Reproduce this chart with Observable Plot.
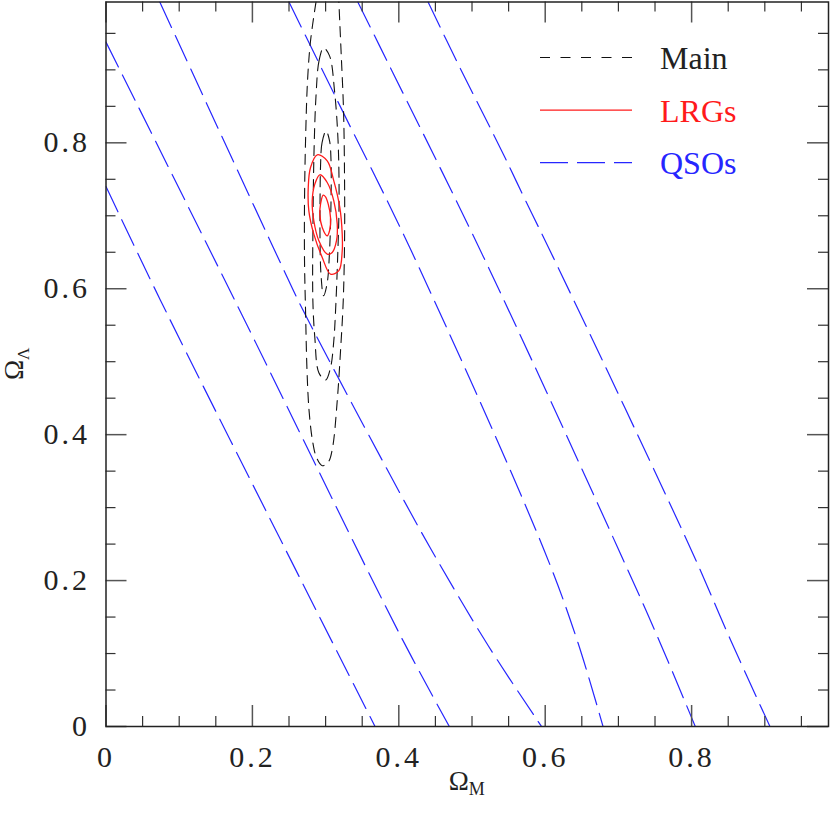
<!DOCTYPE html>
<html><head><meta charset="utf-8">
<script src="https://cdn.jsdelivr.net/npm/d3@7"></script>
<script src="https://cdn.jsdelivr.net/npm/@observablehq/plot@0.6"></script>
<style>
body{margin:0;background:#fff;}
#chart{width:830px;height:823px;}
#chart svg{font-family:'Liberation Serif',serif;}
g[aria-label="x-axis tick label"] text, g[aria-label="y-axis tick label"] text{letter-spacing:3px;font-family:'Liberation Serif',serif;font-size:30px;}
</style></head><body><div id="chart"></div>
<script>
// ---- tick values and labels ----
const majorTicks = [0, 0.2, 0.4, 0.6, 0.8];
const tickLabels = ["0", "0.2", "0.4", "0.6", "0.8"];
const minorTicks = [0.05,0.1,0.15,0.25,0.3,0.35,0.45,0.5,0.55,0.65,0.7,0.75,0.85,0.9,0.95];

// ---- legend ----
const legendLabels = ["Main", "LRGs", "QSOs"];

// ---- QSO contours (open lines, [Omega_M, Omega_Lambda]) ----
const qso1 = [[0,0.740],[0.0745,0.584],[0.246,0.241],[0.3675,0]];
const qso2 = [[0,0.938],[0.176,0.584],[0.402,0.125],[0.469,0]];
const qso3 = [[0.0735,0.993],[0.239,0.634],[0.268,0.573],[0.402,0.319],[0.444,0.243],[0.522,0.111],[0.595,0]];
const qso4 = [[0.250,0.993],[0.316,0.858],[0.417,0.652],[0.598,0.243],[0.6437,0.118],[0.679,0]];
const qso5 = [[0.344,0.993],[0.384,0.912],[0.515,0.645],[0.700,0.243],[0.7556,0.118],[0.805,0]];
const qso6 = [[0.440,0.993],[0.479,0.912],[0.544,0.782],[0.573,0.721],[0.611,0.643],[0.799,0.243],[0.8535,0.118],[0.907,0]];

// ---- Main contours ----
const mainOuter = [[0.2869,0.9932],[0.2794,0.9397],[0.2753,0.8849],[0.2726,0.8027],[0.2712,0.7205],[0.2712,0.6384],
  [0.2726,0.5699],[0.2746,0.4877],[0.2774,0.4329],[0.2821,0.3918],[0.2876,0.3685],[0.2954,0.3575],[0.3040,0.3630],
  [0.3095,0.3822],[0.3159,0.4466],[0.3204,0.5151],[0.3241,0.5836],[0.3259,0.6658],[0.3259,0.7479],[0.3245,0.8438],
  [0.3211,0.9260],[0.3181,0.9932]];
const mainMiddle = [[0.2972,0.9301],[0.2910,0.9123],[0.2869,0.8644],[0.2842,0.7890],[0.2828,0.6932],[0.2826,0.5836],
  [0.2853,0.5329],[0.2908,0.4849],[0.2999,0.4749],[0.3067,0.4918],[0.3112,0.5288],[0.3136,0.5699],[0.3163,0.6384],
  [0.3184,0.7205],[0.3170,0.8027],[0.3122,0.8712],[0.3054,0.9192]];
const mainInner = [[0.3006,0.8164],[0.2951,0.8000],[0.2931,0.7685],[0.2924,0.7205],[0.2924,0.6658],[0.2938,0.6178],
  [0.2972,0.5904],[0.3020,0.6068],[0.3054,0.6521],[0.3074,0.7205],[0.3074,0.7753],[0.3054,0.8027]];

// ---- LRG contours ----
const lrgOuter = [[0.2886,0.7836],[0.2794,0.7662],[0.2763,0.7388],[0.2771,0.7068],[0.2839,0.6749],[0.2954,0.6429],
  [0.3067,0.6201],[0.3181,0.6247],[0.3227,0.6521],[0.3227,0.6749],[0.3194,0.7114],[0.3112,0.7479],[0.3022,0.7753]];
const lrgMiddle = [[0.2921,0.7562],[0.2853,0.7434],[0.2817,0.7205],[0.2839,0.6932],[0.2908,0.6658],[0.3022,0.6475],
  [0.3091,0.6497],[0.3149,0.6658],[0.3159,0.6886],[0.3112,0.7205],[0.3022,0.7456]];
const lrgInner = [[0.2967,0.7283],[0.2931,0.7160],[0.2921,0.7023],[0.2954,0.6840],[0.3022,0.6726],[0.3054,0.6795],
  [0.3067,0.6977],[0.3036,0.7160],[0.2999,0.7260]];

// ---- build tables ----
const rows = (arr, id) => arr.map(([m, l]) => ({m, l, id}));
const qsoRows = [qso1,qso2,qso3,qso4,qso5,qso6].flatMap((a,i)=>rows(a,"q"+i));
const mainOpenRows = rows(mainOuter, "mo");
const mainClosedRows = [mainMiddle, mainInner].flatMap((a,i)=>rows(a,"mc"+i));
const lrgRows = [lrgOuter, lrgMiddle, lrgInner].flatMap((a,i)=>rows(a,"l"+i));

const W = 830, H = 823, mL = 105.5, mR = 2, mT = 1.5, mB = 97;
const fw = W - mL - mR, fh = H - mT - mB;
const labelOf = new Map(majorTicks.map((d,i)=>[d, tickLabels[i]]));

const BLUE = "#2626ff", RED = "#ff1a1a", BLACK = "#111";
const FONT = "'Liberation Serif', serif";

const svg = Plot.plot({
  width: W, height: H,
  marginLeft: mL, marginRight: mR, marginTop: mT, marginBottom: mB,
  x: {domain: [0, 0.987], ticks: majorTicks, tickSize: 0, tickPadding: 19, tickFormat: d => labelOf.get(d), label: null},
  y: {domain: [0, 0.993], ticks: majorTicks, tickSize: 0, tickPadding: 16, tickFormat: d => labelOf.get(d), label: null},
  style: "font-family: 'Liberation Serif', serif; font-size: 30px; color: #222; background: #fff; overflow: visible;",
  marks: [
    Plot.line(qsoRows, {x: "m", y: "l", z: "id", stroke: BLUE, strokeWidth: 1.2, strokeDasharray: "28,9", curve: "catmull-rom", clip: true}),
    Plot.line(mainOpenRows, {x: "m", y: "l", z: "id", stroke: BLACK, strokeWidth: 1.1, strokeDasharray: "10,7", curve: "catmull-rom", clip: true}),
    Plot.line(mainClosedRows, {x: "m", y: "l", z: "id", stroke: BLACK, strokeWidth: 1.1, strokeDasharray: "10,7", curve: "catmull-rom-closed", clip: true}),
    Plot.line(lrgRows, {x: "m", y: "l", z: "id", stroke: RED, strokeWidth: 1.3, curve: "catmull-rom-closed"}),
    // inward ticks on all four sides
    Plot.tickX(majorTicks, {x: d => d, insetTop: fh - 21, stroke: "#555", strokeWidth: 1.5}),
    Plot.tickX(majorTicks, {x: d => d, insetBottom: fh - 21, stroke: "#555", strokeWidth: 1.5}),
    Plot.tickX(minorTicks, {x: d => d, insetTop: fh - 10, stroke: "#333", strokeWidth: 1.2}),
    Plot.tickX(minorTicks, {x: d => d, insetBottom: fh - 10, stroke: "#333", strokeWidth: 1.2}),
    Plot.tickY(majorTicks, {y: d => d, insetRight: fw - 21, stroke: "#555", strokeWidth: 1.5}),
    Plot.tickY(majorTicks, {y: d => d, insetLeft: fw - 21, stroke: "#555", strokeWidth: 1.5}),
    Plot.tickY(minorTicks, {y: d => d, insetRight: fw - 10, stroke: "#333", strokeWidth: 1.2}),
    Plot.tickY(minorTicks, {y: d => d, insetLeft: fw - 10, stroke: "#333", strokeWidth: 1.2}),
    Plot.frame({stroke: "#222", strokeWidth: 1.5})
  ]
});

const s = d3.select(svg);
// axis titles
const xt = s.append("text").attr("x", mL + fw/2).attr("y", 790).attr("text-anchor", "middle")
  .attr("font-family", FONT).attr("font-size", 27).attr("fill", "#222");
xt.append("tspan").text("Ω");
xt.append("tspan").attr("font-size", 18).attr("dy", 5).text("M");
const yt = s.append("text").attr("transform", `translate(23,${mT + fh/2}) rotate(-90)`).attr("text-anchor", "middle")
  .attr("font-family", FONT).attr("font-size", 27).attr("fill", "#222");
yt.append("tspan").text("Ω");
yt.append("tspan").attr("font-size", 17).attr("dy", 6).text("Λ");

// legend
const legendStyle = [
  {stroke: BLACK, dash: "10,10.5", color: "#222"},
  {stroke: RED, dash: null, color: RED},
  {stroke: BLUE, dash: "28,9", color: BLUE}
];
const lg = s.append("g");
legendLabels.forEach((lab, i) => {
  const st = legendStyle[i];
  lg.append("line").attr("x1", 540).attr("x2", 632).attr("y1", 57.5 + i*52.6).attr("y2", 57.5 + i*52.6)
    .attr("stroke", st.stroke).attr("stroke-width", 1.2).attr("stroke-dasharray", st.dash);
  lg.append("text").attr("x", 660).attr("y", 69 + i*52.5).attr("text-anchor", "start")
    .attr("font-family", FONT).attr("font-size", 32).attr("fill", st.color).text(lab);
});

document.getElementById("chart").appendChild(svg);
</script>
</body></html>
